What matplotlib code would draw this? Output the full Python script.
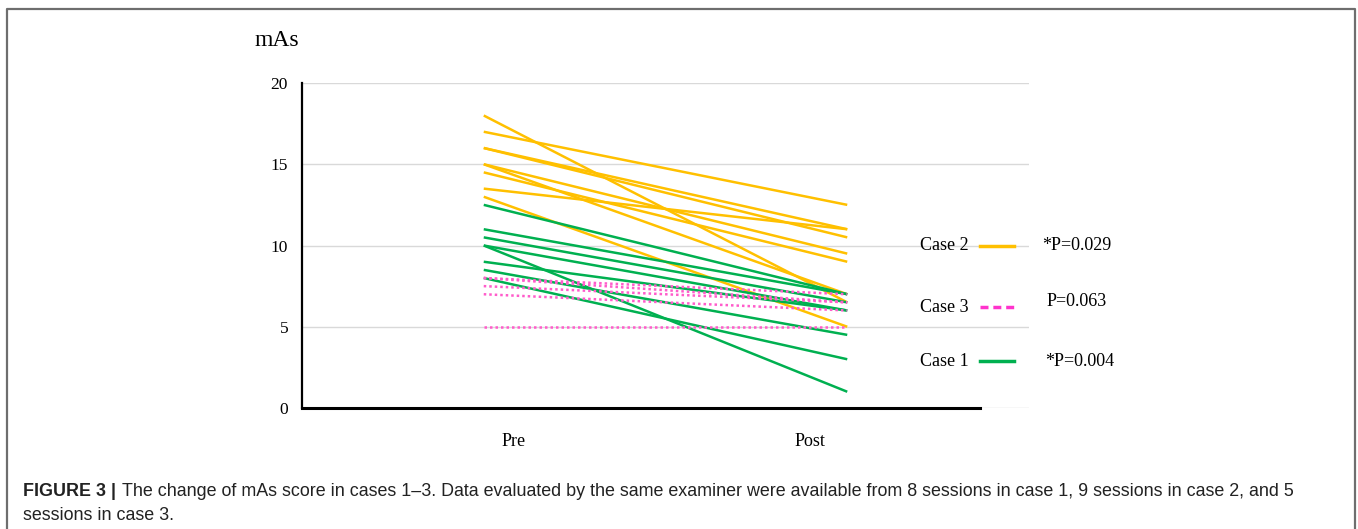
import numpy as np
import matplotlib
matplotlib.use("Agg")
import matplotlib.pyplot as plt
from matplotlib.lines import Line2D
from matplotlib.transforms import ScaledTranslation

# mAs scores before and after, one pair per session
case1_pre = [12.5, 11, 10.5, 10, 10, 9, 8.5, 8]
case1_post = [7, 7, 6.5, 6, 1, 6, 4.5, 3]
case2_pre = [18, 17, 16, 16, 15, 15, 14.5, 13.5, 13]
case2_post = [6.5, 12.5, 11, 10.5, 9.5, 7, 9, 11, 5]
case3_pre = [8, 8, 7.5, 7, 5]
case3_post = [7, 6.5, 6.5, 6, 5]

phases = ["Pre", "Post"]
yticks = [0, 5, 10, 15, 20]
legend_names = ["Case 2", "Case 3", "Case 1"]
p_values = ["*P=0.029", "P=0.063", "*P=0.004"]

YELLOW = "#FFC000"
GREEN = "#00B050"
PINK = "#FF5CCB"
PINK_LEG = "#FF33CC"

W, H = 1358, 529
fig = plt.figure(figsize=(W / 100, H / 100), dpi=100)


def px(x, y):
    return x / W, 1 - y / H


serif = "Liberation Serif"
sans = "Liberation Sans"

ax = fig.add_axes([302 / W, 1 - 408 / H, 727 / W, 325 / H])
x = np.arange(len(phases))

for pre, post in zip(case2_pre, case2_post):
    ax.plot(x, [pre, post], color=YELLOW, lw=1.8, solid_capstyle="butt", zorder=3)
for pre, post in zip(case1_pre, case1_post):
    ax.plot(x, [pre, post], color=GREEN, lw=1.8, solid_capstyle="butt", zorder=4)
for pre, post in zip(case3_pre, case3_post):
    ax.plot(x, [pre, post], color=PINK, lw=1.8, linestyle=(0, (1, 1.2)), zorder=5)

ax.set_xlim(-0.5, 1.5)
ax.set_ylim(0, 20)
ax.set_yticks(yticks)
ax.set_yticklabels([str(v) for v in yticks], fontfamily=serif, fontsize=12.5)
ax.tick_params(axis="y", length=0, pad=10)
ax.grid(axis="y", color="#D9D9D9", lw=1)
ax.set_axisbelow(True)

ax.set_xticks(x)
ax.set_xticklabels(phases, fontfamily=serif, fontsize=13)
ax.tick_params(axis="x", length=0, pad=18)
# category labels sit a little inward from the line ends
for lab, dx in zip(ax.get_xticklabels(), [30, -37]):
    lab.set_transform(lab.get_transform() + ScaledTranslation(dx / 100, 0, fig.dpi_scale_trans))

for s in ["top", "right"]:
    ax.spines[s].set_visible(False)
ax.spines["left"].set_linewidth(1.6)
ax.spines["bottom"].set_linewidth(2.2)
ax.spines["bottom"].set_bounds(-0.5, 1.366)

fig.text(*px(277, 40), "mAs", fontfamily=serif, fontsize=17, ha="center", va="center")

# legend with p-values
leg_rows = [246, 307, 361]
p_rows = [246, 301, 361]
p_x = [1042, 1047, 1045]
styles = [dict(color=YELLOW, lw=2.5), dict(color=PINK_LEG, lw=2.5, linestyle=(0, (2.3, 1.4))),
          dict(color=GREEN, lw=2.5)]
for name, yl, yp, xp, pv, st in zip(legend_names, leg_rows, p_rows, p_x, p_values, styles):
    fig.text(*px(969, yl), name, fontfamily=serif, fontsize=13, ha="right", va="center")
    x0, y0 = px(980, yl)
    x1, _ = px(1014, yl)
    fig.add_artist(Line2D([x0, x1], [y0, y0], transform=fig.transFigure, **st))
    fig.text(*px(xp, yp), pv, fontfamily=serif, fontsize=13, ha="left", va="center")

# frame around the figure panel
bx0, by0 = px(7, 560)
bx1, by1 = px(1355, 9)
fig.add_artist(Line2D([bx0, bx0, bx1, bx1], [by0, by1, by1, by0],
                      transform=fig.transFigure, color="#6E6E6E", lw=1.6))

# caption
cap_size = 12.9
cap_y1, cap_y2 = 491, 516
cap = fig.text(*px(23, cap_y1), "FIGURE 3 |", fontfamily=sans, fontsize=cap_size,
               fontweight="bold", ha="left", va="center", color="#222222")
fig.canvas.draw()
ext = cap.get_window_extent()
fig.text((ext.x1 + 6) / W, 1 - cap_y1 / H,
         "The change of mAs score in cases 1\u20133. Data evaluated by the same examiner were "
         "available from 8 sessions in case 1, 9 sessions in case 2, and 5",
         fontfamily=sans, fontsize=cap_size, ha="left", va="center", color="#222222")
fig.text(*px(23, cap_y2), "sessions in case 3.", fontfamily=sans, fontsize=cap_size,
         ha="left", va="center", color="#222222")

fig.savefig("out.png", dpi=100)
